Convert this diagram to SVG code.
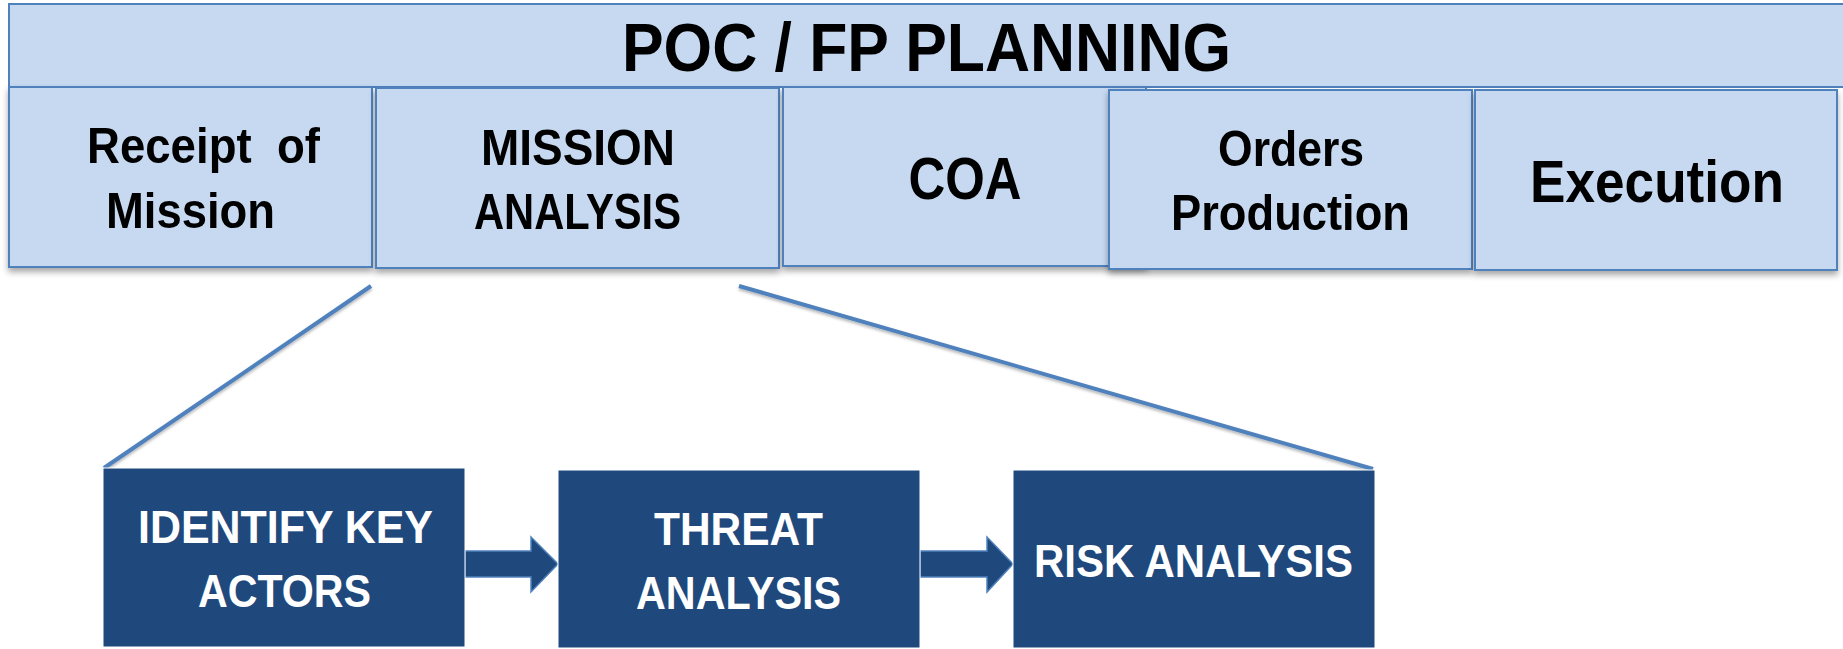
<svg xmlns="http://www.w3.org/2000/svg" width="1843" height="649" viewBox="0 0 1843 649">
<defs>
<filter id="sh" x="-10%" y="-10%" width="120%" height="130%">
<feDropShadow dx="0" dy="4" stdDeviation="3" flood-color="#000" flood-opacity="0.35"/>
</filter>
<filter id="lsh" x="-10%" y="-10%" width="120%" height="130%">
<feDropShadow dx="0" dy="2" stdDeviation="1.5" flood-color="#000" flood-opacity="0.3"/>
</filter>
</defs>
<style>
.lb{fill:#C6D9F1;stroke:#4F81BD;stroke-width:2}
.db{fill:#1F497D;stroke:#FFFFFF;stroke-width:1}
.t{font-family:"Liberation Sans",Arial,sans-serif;font-weight:bold;text-anchor:middle;fill:#000}
.w{font-family:"Liberation Sans",Arial,sans-serif;font-weight:bold;text-anchor:middle;fill:#FFFFFF}
.ln{stroke:#4F81BD;stroke-width:4;fill:none}
.ar{fill:#1F497D;stroke:#4F81BD;stroke-width:1.5}
</style>
<rect width="1843" height="649" fill="#FFFFFF"/>
<g id="banner">
<rect class="lb" x="9" y="4" width="1840" height="83"/>
<text class="t" x="926.5" y="71" font-size="68" textLength="609" lengthAdjust="spacingAndGlyphs">POC / FP PLANNING</text>
</g>
<g id="receipt" filter="url(#sh)">
<rect class="lb" x="9" y="87" width="363" height="180"/>
<text class="t" x="203.5" y="163" font-size="50" textLength="233" lengthAdjust="spacingAndGlyphs" xml:space="preserve">Receipt  of</text>
<text class="t" x="190.5" y="228" font-size="50" textLength="169" lengthAdjust="spacingAndGlyphs">Mission</text>
</g>
<g id="mission-analysis" filter="url(#sh)">
<rect class="lb" x="376" y="88" width="403" height="180"/>
<text class="t" x="578" y="165" font-size="50" textLength="194" lengthAdjust="spacingAndGlyphs">MISSION</text>
<text class="t" x="577.5" y="229" font-size="50" textLength="207" lengthAdjust="spacingAndGlyphs">ANALYSIS</text>
</g>
<g id="coa" filter="url(#sh)">
<rect class="lb" x="783" y="87" width="363" height="179"/>
<text class="t" x="965" y="199" font-size="59" textLength="113" lengthAdjust="spacingAndGlyphs">COA</text>
</g>
<g id="orders" filter="url(#sh)">
<rect class="lb" x="1109" y="90" width="363" height="179"/>
<text class="t" x="1291" y="166" font-size="50" textLength="146" lengthAdjust="spacingAndGlyphs">Orders</text>
<text class="t" x="1290.5" y="230" font-size="50" textLength="239" lengthAdjust="spacingAndGlyphs">Production</text>
</g>
<g id="execution" filter="url(#sh)">
<rect class="lb" x="1475" y="90" width="362" height="180"/>
<text class="t" x="1657" y="202" font-size="59" textLength="254" lengthAdjust="spacingAndGlyphs">Execution</text>
</g>
<g id="connectors">
<g filter="url(#lsh)">
<line class="ln" x1="371" y1="286" x2="104" y2="468"/>
<line class="ln" x1="739" y1="286" x2="1373" y2="469"/>
</g>
<path class="ar" d="M465 551 H531 V537 L558 564 L531 592 V577 H465 Z"/>
<path class="ar" d="M920 551 H987 V537 L1013 564 L987 592 V577 H920 Z"/>
</g>
<g id="identify-key-actors">
<rect class="db" x="103" y="468" width="362" height="179"/>
<text class="w" x="285.5" y="543" font-size="47" textLength="295" lengthAdjust="spacingAndGlyphs">IDENTIFY KEY</text>
<text class="w" x="284.5" y="607" font-size="47" textLength="173" lengthAdjust="spacingAndGlyphs">ACTORS</text>
</g>
<g id="threat-analysis">
<rect class="db" x="558" y="470" width="362" height="178"/>
<text class="w" x="738.5" y="545" font-size="47" textLength="169" lengthAdjust="spacingAndGlyphs">THREAT</text>
<text class="w" x="738.5" y="609" font-size="47" textLength="205" lengthAdjust="spacingAndGlyphs">ANALYSIS</text>
</g>
<g id="risk-analysis">
<rect class="db" x="1013" y="470" width="362" height="178"/>
<text class="w" x="1193.5" y="577" font-size="47" textLength="319" lengthAdjust="spacingAndGlyphs">RISK ANALYSIS</text>
</g>
</svg>
